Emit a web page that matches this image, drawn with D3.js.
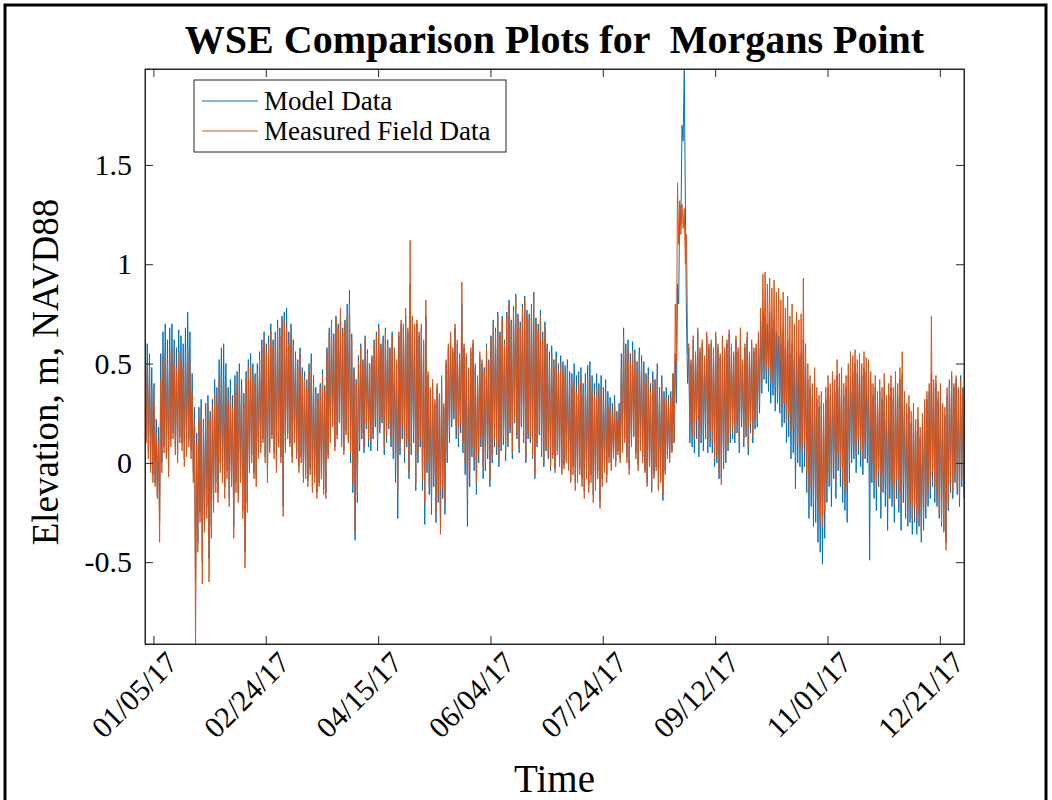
<!DOCTYPE html>
<html>
<head>
<meta charset="utf-8">
<script src="https://cdn.jsdelivr.net/npm/d3@7"></script>
<style>
  html, body { margin: 0; padding: 0; background: #fff; }
  svg text { font-family: "Liberation Serif", "Times New Roman", serif; }
</style>
</head>
<body>
<svg id="chart" width="1052" height="800"></svg>
<script>
// Daily high / low water surface elevation (m, NAVD88), one pair per day starting 2017-01-01
const startDate = "2017-01-01";

const fieldHigh = [0.48,
0.50,0.46,0.38,0.30,0.15,0.10,0.42,0.52,0.55,0.50,
0.55,0.58,0.50,0.47,0.56,0.52,0.48,0.54,0.57,0.50,
0.35,0.20,0.10,0.22,0.28,0.18,0.25,0.30,0.22,0.28,
0.35,0.30,0.42,0.44,0.40,0.38,0.30,0.34,0.28,0.36,
0.40,0.45,0.38,0.30,0.42,0.48,0.50,0.44,0.40,0.46,
0.52,0.58,0.62,0.55,0.60,0.66,0.58,0.62,0.68,0.64,
0.70,0.72,0.68,0.60,0.65,0.58,0.52,0.48,0.55,0.45,
0.42,0.38,0.46,0.50,0.40,0.35,0.32,0.38,0.44,0.36,
0.55,0.65,0.70,0.62,0.72,0.68,0.78,0.66,0.70,0.74,
0.80,0.62,0.45,0.40,0.52,0.58,0.50,0.62,0.55,0.48,
0.52,0.60,0.64,0.68,0.58,0.62,0.66,0.60,0.56,0.64,
0.58,0.52,0.66,0.72,0.70,0.78,0.68,1.12,0.74,0.70,
0.72,0.66,0.70,0.62,0.82,0.46,0.38,0.42,0.32,0.40,
0.35,0.44,0.30,0.52,0.60,0.66,0.58,0.70,0.62,0.55,
0.91,0.60,0.55,0.48,0.58,0.62,0.50,0.44,0.56,0.52,
0.46,0.58,0.50,0.62,0.70,0.66,0.74,0.64,0.72,0.60,
0.74,0.80,0.70,0.76,0.84,0.72,0.68,0.78,0.82,0.74,
0.72,0.78,0.85,0.70,0.66,0.74,0.62,0.68,0.58,0.52,
0.55,0.48,0.52,0.46,0.50,0.47,0.44,0.48,0.40,0.38,0.42,
0.36,0.40,0.44,0.34,0.38,0.42,0.44,0.36,0.33,0.38,
0.34,0.38,0.32,0.36,0.30,0.28,0.25,0.30,0.22,0.26,
0.48,0.63,0.55,0.58,0.50,0.56,0.52,0.46,0.54,0.50,
0.46,0.40,0.44,0.36,0.42,0.38,0.45,0.34,0.40,0.32,
0.34,0.30,0.33,0.45,0.80,1.41,1.32,1.30,1.28,1.15,
0.60,0.52,0.64,0.56,0.68,0.58,0.62,0.54,0.66,0.60,
0.62,0.58,0.66,0.60,0.55,0.64,0.58,0.62,0.67,0.60,
0.56,0.64,0.58,0.68,0.52,0.60,0.66,0.56,0.62,0.58,
0.60,0.66,0.78,0.95,0.96,0.90,0.93,0.88,0.92,0.86,
0.88,0.82,0.86,0.78,0.84,0.74,0.80,0.70,0.76,0.72,
0.75,0.93,0.60,0.50,0.44,0.40,0.48,0.38,0.34,0.36,
0.30,0.38,0.44,0.40,0.46,0.42,0.52,0.45,0.48,0.40,
0.44,0.50,0.56,0.54,0.57,0.52,0.55,0.50,0.56,0.53,
0.52,0.46,0.40,0.44,0.36,0.42,0.38,0.45,0.34,0.40,
0.44,0.38,0.46,0.40,0.48,0.56,0.36,0.30,0.34,0.26,
0.30,0.22,0.28,0.18,0.25,0.32,0.36,0.40,0.74,0.42,
0.44,0.36,0.40,0.30,0.28,0.38,0.42,0.46,0.40,0.44,0.38,0.42,0.36];

const fieldLow = [0.10,
0.02,-0.05,-0.10,-0.12,-0.18,-0.40,-0.05,0.05,0.02,-0.07,
0.08,0.12,0.04,0.00,0.10,0.06,-0.02,0.03,0.08,0.02,
-0.10,-0.912,-0.45,-0.30,-0.61,-0.35,-0.28,-0.60,-0.38,-0.25,
-0.15,-0.20,-0.05,-0.10,-0.18,-0.08,-0.22,-0.12,-0.38,-0.15,
-0.20,-0.10,-0.28,-0.53,-0.25,-0.05,0.00,-0.08,-0.12,0.02,
0.05,0.10,0.00,-0.10,0.05,0.12,0.02,-0.05,0.08,0.00,
-0.27,0.05,0.12,0.08,0.00,0.10,0.02,-0.05,0.00,-0.10,
-0.08,-0.12,-0.06,-0.15,-0.10,-0.18,-0.12,-0.08,-0.16,-0.18,
0.02,0.10,0.18,0.06,0.12,0.20,0.08,0.04,0.14,0.10,
0.05,-0.10,-0.35,-0.15,0.10,0.15,0.08,0.20,0.12,0.10,
0.15,0.22,0.10,0.18,0.23,0.08,0.14,0.20,0.12,0.06,
0.00,-0.15,0.10,0.18,0.05,0.12,-0.05,0.08,0.15,-0.11,
0.05,0.12,-0.08,-0.20,0.00,-0.10,-0.20,-0.06,-0.25,-0.15,
-0.36,-0.12,-0.20,0.05,0.15,0.22,0.27,0.18,0.13,0.20,
0.10,0.00,-0.18,-0.05,0.08,0.02,-0.10,0.05,0.13,-0.02,
0.00,0.06,-0.08,0.04,0.12,0.08,0.02,0.10,0.13,0.05,
0.10,0.18,0.05,0.22,0.14,0.08,0.20,0.12,0.02,0.15,
0.12,0.04,-0.06,0.10,0.16,0.05,0.00,0.08,0.04,-0.02,
0.02,-0.05,0.04,-0.02,-0.06,-0.03,0.00,-0.04,-0.10,-0.06,-0.14,
-0.10,-0.06,-0.12,-0.18,-0.08,-0.15,-0.10,-0.20,-0.14,-0.08,
-0.23,-0.12,-0.05,-0.10,0.00,-0.04,0.02,-0.02,0.04,0.00,
0.05,0.10,0.00,-0.06,0.08,0.13,0.02,-0.04,0.06,0.00,
-0.05,-0.12,-0.02,-0.15,-0.08,-0.04,-0.14,-0.10,-0.16,-0.06,
0.02,0.00,0.05,0.10,0.50,1.10,1.15,1.18,1.00,0.55,
0.20,0.15,0.12,0.22,0.10,0.18,0.14,0.20,0.12,0.16,
0.10,0.02,0.04,-0.05,-0.11,0.00,0.04,0.10,0.15,0.18,
0.15,0.20,0.10,0.23,0.12,0.18,0.08,0.20,0.14,0.22,
0.22,0.30,0.40,0.50,0.45,0.48,0.40,0.44,0.38,0.42,
0.35,0.28,0.30,0.20,0.25,0.15,0.18,0.02,0.10,0.08,
0.05,0.10,-0.05,-0.15,-0.12,-0.20,-0.18,-0.25,-0.30,-0.32,
-0.25,-0.10,-0.05,-0.12,0.00,-0.08,0.05,-0.02,-0.10,-0.15,
-0.12,0.00,0.08,0.10,0.04,0.12,0.06,0.02,0.10,0.08,
-0.10,0.00,-0.08,-0.12,-0.04,-0.15,-0.06,-0.10,-0.18,-0.08,
-0.12,-0.20,-0.08,-0.15,-0.22,-0.10,-0.18,-0.25,-0.20,-0.28,
-0.22,-0.30,-0.25,-0.35,-0.28,-0.20,-0.15,-0.10,-0.05,-0.12,
-0.18,-0.25,-0.30,-0.35,-0.44,-0.20,-0.10,-0.15,-0.06,-0.12,-0.18,-0.08,-0.15];

const modelHigh = [0.58,
0.60,0.55,0.48,0.40,0.22,0.18,0.55,0.66,0.70,0.62,
0.68,0.70,0.62,0.58,0.67,0.64,0.60,0.68,0.76,0.66,
0.45,0.28,0.15,0.28,0.32,0.22,0.30,0.34,0.26,0.32,
0.42,0.38,0.52,0.58,0.60,0.50,0.38,0.42,0.34,0.44,
0.46,0.50,0.42,0.35,0.46,0.52,0.55,0.50,0.45,0.50,
0.56,0.62,0.66,0.60,0.64,0.70,0.62,0.66,0.72,0.68,
0.74,0.76,0.78,0.66,0.70,0.62,0.56,0.52,0.58,0.48,
0.46,0.42,0.50,0.55,0.44,0.38,0.35,0.40,0.47,0.39,
0.58,0.68,0.72,0.65,0.74,0.70,0.76,0.68,0.72,0.80,
0.87,0.65,0.48,0.42,0.54,0.60,0.52,0.64,0.57,0.50,
0.54,0.62,0.66,0.70,0.60,0.64,0.68,0.62,0.58,0.66,
0.56,0.50,0.64,0.70,0.68,0.74,0.66,0.90,0.72,0.68,
0.70,0.64,0.68,0.60,0.74,0.44,0.36,0.40,0.30,0.38,
0.32,0.42,0.28,0.50,0.58,0.64,0.56,0.68,0.60,0.52,
0.80,0.58,0.53,0.46,0.56,0.60,0.48,0.42,0.54,0.50,
0.48,0.60,0.52,0.64,0.72,0.68,0.76,0.66,0.74,0.62,
0.76,0.82,0.72,0.79,0.85,0.75,0.71,0.80,0.84,0.77,
0.75,0.80,0.86,0.73,0.70,0.77,0.66,0.71,0.60,0.56,
0.59,0.52,0.56,0.50,0.54,0.51,0.49,0.52,0.46,0.45,0.50,
0.44,0.46,0.48,0.40,0.45,0.49,0.51,0.44,0.40,0.45,
0.40,0.44,0.38,0.42,0.36,0.33,0.30,0.34,0.26,0.30,
0.55,0.68,0.60,0.62,0.55,0.61,0.57,0.51,0.58,0.54,
0.51,0.45,0.48,0.40,0.46,0.42,0.50,0.38,0.44,0.36,
0.38,0.34,0.36,0.45,0.55,0.90,1.30,1.70,1.983,0.70,
0.58,0.50,0.62,0.54,0.66,0.56,0.60,0.52,0.64,0.58,
0.60,0.56,0.64,0.58,0.53,0.62,0.56,0.60,0.65,0.58,
0.54,0.62,0.56,0.65,0.50,0.58,0.63,0.54,0.60,0.56,
0.58,0.62,0.72,0.76,0.74,0.70,0.76,0.68,0.72,0.66,
0.64,0.60,0.66,0.58,0.62,0.55,0.60,0.52,0.56,0.54,
0.55,0.62,0.50,0.42,0.38,0.34,0.40,0.32,0.28,0.30,
0.24,0.32,0.38,0.34,0.40,0.36,0.44,0.38,0.40,0.34,
0.38,0.44,0.48,0.46,0.50,0.45,0.48,0.44,0.48,0.46,
0.44,0.40,0.34,0.38,0.30,0.36,0.32,0.38,0.28,0.34,
0.38,0.32,0.40,0.34,0.42,0.45,0.30,0.25,0.28,0.20,
0.24,0.16,0.22,0.13,0.20,0.28,0.32,0.36,0.45,0.38,
0.40,0.32,0.36,0.26,0.24,0.34,0.40,0.44,0.38,0.42,0.36,0.44,0.38];

const modelLow = [0.12,
0.05,-0.02,-0.06,-0.10,-0.17,-0.30,0.00,0.08,0.05,-0.03,
0.12,0.15,0.08,0.04,0.13,0.10,0.02,0.07,0.12,0.06,
-0.05,-0.60,-0.40,-0.25,-0.50,-0.30,-0.22,-0.48,-0.32,-0.20,
-0.10,-0.15,0.00,-0.05,-0.12,-0.04,-0.18,-0.08,-0.32,-0.10,
-0.15,-0.06,-0.24,-0.45,-0.20,-0.02,0.04,-0.05,-0.08,0.05,
0.08,0.12,0.03,-0.06,0.08,0.14,0.05,-0.02,0.10,0.03,
-0.22,0.08,0.15,0.10,0.03,0.12,0.05,-0.02,0.03,-0.07,
-0.05,-0.09,-0.03,-0.12,-0.07,-0.15,-0.10,-0.05,-0.13,-0.15,
0.04,0.12,0.20,0.08,0.14,0.21,0.10,0.06,0.16,0.12,
0.00,-0.15,-0.39,-0.20,0.06,0.12,0.05,0.17,0.08,0.06,
0.12,0.18,0.06,0.15,0.20,0.04,0.10,0.17,0.08,0.02,
-0.10,-0.28,0.04,0.12,0.00,0.08,-0.08,0.04,0.10,-0.14,
0.00,0.08,-0.14,-0.31,-0.05,-0.16,-0.26,-0.12,-0.30,-0.20,
-0.32,-0.18,-0.26,0.00,0.10,0.18,0.22,0.12,0.08,0.15,
0.05,-0.06,-0.32,-0.12,0.03,-0.04,-0.16,0.00,0.08,-0.08,
-0.04,0.02,-0.12,0.00,0.08,0.04,-0.02,0.06,0.09,0.01,
0.08,0.15,0.02,0.20,0.12,0.05,0.18,0.10,0.00,0.12,
0.10,0.02,-0.08,0.08,0.14,0.03,-0.02,0.06,0.02,-0.04,
0.04,-0.03,0.06,0.00,-0.04,-0.01,0.02,-0.02,-0.06,-0.02,-0.10,
-0.06,-0.03,-0.08,-0.14,-0.04,-0.11,-0.06,-0.16,-0.10,-0.04,
-0.19,-0.08,-0.02,-0.06,0.03,0.00,0.05,0.01,0.06,0.02,
0.08,0.12,0.03,-0.03,0.10,0.14,0.05,-0.01,0.08,0.03,
-0.04,-0.10,0.00,-0.14,-0.06,-0.02,-0.12,-0.08,-0.19,-0.04,
0.04,0.02,0.06,0.10,0.30,0.80,1.20,1.62,1.30,0.40,
0.10,0.08,0.05,0.12,0.03,0.10,0.06,0.12,0.05,0.08,
0.05,-0.02,0.00,-0.08,-0.08,-0.03,0.00,0.06,0.10,0.12,
0.10,0.15,0.05,0.18,0.08,0.13,0.04,0.15,0.10,0.17,
0.18,0.25,0.35,0.42,0.40,0.36,0.30,0.34,0.26,0.30,
0.25,0.18,0.20,0.10,0.13,0.02,0.05,-0.13,0.00,-0.02,
-0.05,-0.02,-0.15,-0.28,-0.22,-0.32,-0.30,-0.40,-0.45,-0.51,
-0.38,-0.20,-0.12,-0.22,-0.08,-0.18,-0.04,-0.12,-0.20,-0.24,
-0.30,-0.10,0.00,0.02,-0.05,0.04,-0.02,-0.06,0.02,0.00,
-0.49,-0.10,-0.18,-0.24,-0.12,-0.28,-0.15,-0.22,-0.34,-0.18,
-0.22,-0.30,-0.18,-0.25,-0.34,-0.20,-0.28,-0.32,-0.30,-0.36,
-0.30,-0.36,-0.32,-0.40,-0.34,-0.28,-0.22,-0.18,-0.12,-0.20,
-0.22,-0.28,-0.32,-0.34,-0.40,-0.24,-0.15,-0.18,-0.10,-0.16,-0.22,-0.12,-0.18];

const tickLabels = ["01/05/17", "02/24/17", "04/15/17", "06/04/17",
                    "07/24/17", "09/12/17", "11/01/17", "12/21/17"];
const yTicks = [-0.5, 0, 0.5, 1, 1.5];
const yTickLabels = ["-0.5", "0", "0.5", "1", "1.5"];
const seriesNames = ["Model Data", "Measured Field Data"];
const seriesColors = ["#0072BD", "#D95319"];

// ---- build time-stamped points: high water at 06:00, low water at 18:00 ----
const t0 = new Date(startDate + "T00:00:00Z");
const HOUR = 3600 * 1000;
function toPoints(hi, lo) {
  const pts = [];
  for (let i = 0; i < hi.length; i++) {
    pts.push({ t: new Date(t0.getTime() + (i * 24 + 6) * HOUR), v: hi[i] });
    pts.push({ t: new Date(t0.getTime() + (i * 24 + 18) * HOUR), v: lo[i] });
  }
  return pts;
}
const model = toPoints(modelHigh, modelLow);
const field = toPoints(fieldHigh, fieldLow);

const svg = d3.select("#chart");
const M = { left: 145, right: 964, top: 69, bottom: 644 };
const axisColor = "#262626";

// outer frame
svg.append("rect")
  .attr("x", 5).attr("y", 5).attr("width", 1041).attr("height", 810)
  .attr("fill", "none").attr("stroke", "#000").attr("stroke-width", 3);

const allPts = model.concat(field);
const x = d3.scaleUtc()
  .domain(d3.extent(allPts, d => d.t))
  .range([M.left, M.right]);
const y = d3.scaleLinear()
  .domain(d3.extent(allPts, d => d.v))
  .range([M.bottom, M.top]);

const parseTick = d3.utcParse("%m/%d/%y");
const tickDates = tickLabels.map(parseTick);

// clip to plotting box
svg.append("defs").append("clipPath").attr("id", "plotClip")
  .append("rect").attr("x", M.left).attr("y", M.top)
  .attr("width", M.right - M.left).attr("height", M.bottom - M.top);

const line = d3.line().x(d => x(d.t)).y(d => y(d.v));
const plot = svg.append("g").attr("clip-path", "url(#plotClip)");
[model, field].forEach((s, k) => {
  plot.append("path")
    .datum(s)
    .attr("d", line)
    .attr("fill", "none")
    .attr("stroke", seriesColors[k])
    .attr("stroke-width", 1)
    .attr("stroke-linejoin", "round");
});

// axes (ticks point inward on all four sides)
const xb = svg.append("g").attr("transform", `translate(0,${M.bottom})`)
  .call(d3.axisBottom(x).tickValues(tickDates).tickSize(-8)
        .tickFormat((d, i) => tickLabels[i]));
xb.selectAll("text")
  .attr("x", null).attr("y", null).attr("dy", "0.35em")
  .attr("text-anchor", "end")
  .attr("transform", "translate(18,13) rotate(-45)");

const xt = svg.append("g").attr("transform", `translate(0,${M.top})`)
  .call(d3.axisTop(x).tickValues(tickDates).tickSize(-8).tickFormat(""));

const yl = svg.append("g").attr("transform", `translate(${M.left},0)`)
  .call(d3.axisLeft(y).tickValues(yTicks).tickSize(-8).tickPadding(13)
        .tickFormat((d, i) => yTickLabels[i]));
const yr = svg.append("g").attr("transform", `translate(${M.right},0)`)
  .call(d3.axisRight(y).tickValues(yTicks).tickSize(-8).tickFormat(""));

[xb, xt, yl, yr].forEach(g => {
  g.select(".domain").attr("stroke", axisColor).attr("stroke-width", 1);
  g.selectAll(".tick line").attr("stroke", axisColor).attr("stroke-width", 1);
  g.selectAll("text").attr("fill", "#000")
    .style("font-family", '"Liberation Serif", serif').style("font-size", "30px");
});

// box edges
svg.append("rect")
  .attr("x", M.left).attr("y", M.top)
  .attr("width", M.right - M.left).attr("height", M.bottom - M.top)
  .attr("fill", "none").attr("stroke", axisColor).attr("stroke-width", 1);

// title and axis labels
svg.append("text")
  .attr("x", (M.left + M.right) / 2).attr("y", 53)
  .attr("text-anchor", "middle")
  .style("font-size", "40px").style("font-weight", "bold")
  .style("white-space", "pre")
  .text("WSE Comparison Plots for  Morgans Point");

svg.append("text")
  .attr("x", (M.left + M.right) / 2).attr("y", 792)
  .attr("text-anchor", "middle")
  .style("font-size", "39px")
  .text("Time");

svg.append("text")
  .attr("transform", "translate(58,372) rotate(-90)")
  .attr("text-anchor", "middle")
  .style("font-size", "37px")
  .text("Elevation, m, NAVD88");

// legend
const lg = svg.append("g");
lg.append("rect").attr("x", 194).attr("y", 80).attr("width", 312).attr("height", 72)
  .attr("fill", "#fff").attr("stroke", axisColor).attr("stroke-width", 1);
seriesNames.forEach((name, k) => {
  const cy = 101 + k * 30;
  lg.append("line").attr("x1", 202).attr("x2", 258).attr("y1", cy).attr("y2", cy)
    .attr("stroke", seriesColors[k]).attr("stroke-width", 1);
  lg.append("text").attr("x", 264).attr("y", cy).attr("dy", "0.33em")
    .style("font-size", "27px").text(name);
});
</script>
</body>
</html>
